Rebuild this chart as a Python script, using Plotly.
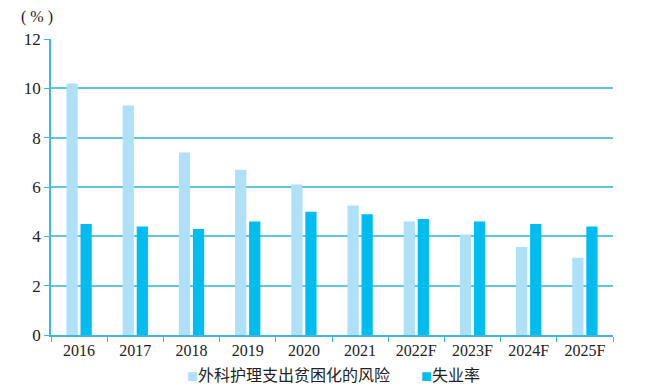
import plotly.graph_objects as go

categories = ["2016", "2017", "2018", "2019", "2020", "2021", "2022F", "2023F", "2024F", "2025F"]
risk_values = [10.2, 9.3, 7.4, 6.7, 6.1, 5.25, 4.6, 4.07, 3.57, 3.13]
unemployment_values = [4.5, 4.4, 4.3, 4.6, 5.0, 4.9, 4.7, 4.6, 4.5, 4.4]
series_names = ["外科护理支出贫困化的风险", "失业率"]
series_colors = ["#aee0f8", "#00bdf0"]
y_ticks = [0, 2, 4, 6, 8, 10, 12]

axis_color = "#3db8d6"
grid_color = "#5fc6dd"
serif = "Liberation Serif, Times New Roman, serif"
cjk = "Noto Sans CJK SC, sans-serif"

# page body has an 8px margin: figure is sized to fit the 645x392 window
W, H = 637, 384
L, T, R, B = 43, 31, 32, 57

fig = go.Figure()
fig.add_trace(go.Bar(x=categories, y=risk_values, name=series_names[0],
                     marker=dict(color=series_colors[0], line=dict(width=0))))
fig.add_trace(go.Bar(x=categories, y=unemployment_values, name=series_names[1],
                     marker=dict(color=series_colors[1], line=dict(width=0))))

plot_w = W - L - R
plot_h = H - T - B

def px_to_paper_x(px):
    return (px - L) / plot_w

def px_to_paper_y(py):
    return (H - B - py) / plot_h

legend_pos = [177, 411]
annotations = []
for name, color, xp in zip(series_names, series_colors, legend_pos):
    annotations.append(dict(
        text=f'<span style="font-size:11px;color:{color}">■</span>{name}',
        x=px_to_paper_x(xp), y=px_to_paper_y(366), xref="paper", yref="paper",
        xanchor="left", yanchor="middle", showarrow=False,
        font=dict(family=cjk, size=16, color="#222")))
annotations.append(dict(text="( % )", x=px_to_paper_x(29), y=px_to_paper_y(9),
                        xref="paper", yref="paper", xanchor="center", yanchor="middle",
                        showarrow=False, font=dict(family=serif, size=16, color="#222")))

fig.update_layout(
    width=W, height=H,
    margin=dict(l=L, r=R, t=T, b=B, autoexpand=False),
    plot_bgcolor="white", paper_bgcolor="white",
    barmode="group", bargap=0.5, bargroupgap=0.2,
    showlegend=False,
    xaxis=dict(type="category", showline=True, linecolor=axis_color, linewidth=1.5,
               ticks="outside", tickson="boundaries", ticklen=5, tickcolor=axis_color,
               automargin=False,
               tickfont=dict(family=serif, size=16, color="#222"), showgrid=False),
    yaxis=dict(range=[0, 12], tickvals=y_ticks, showline=True, linecolor=axis_color,
               linewidth=1.5, ticks="outside", ticklen=5, tickcolor=axis_color,
               showgrid=True, gridcolor=grid_color, gridwidth=1.5, zeroline=False,
               automargin=False,
               tickfont=dict(family=serif, size=17, color="#222")),
    annotations=annotations,
)

fig.write_html("out.html")
